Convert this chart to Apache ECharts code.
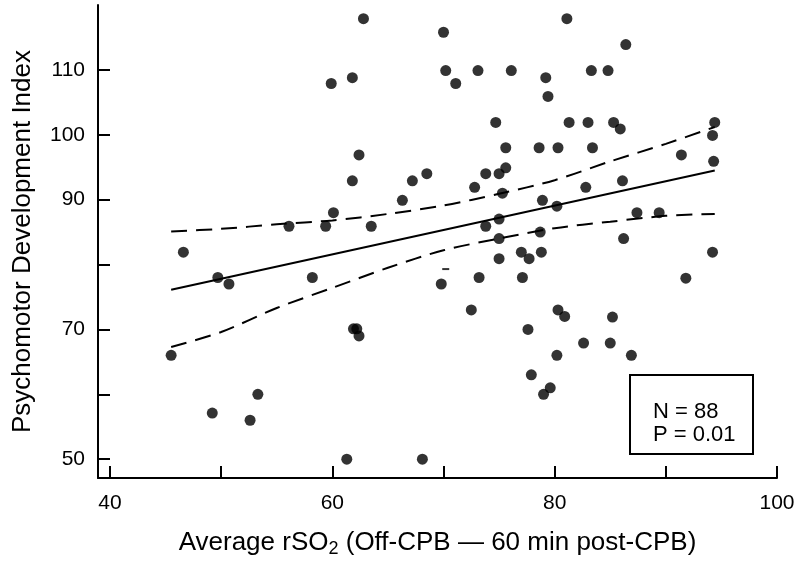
<!DOCTYPE html>
<html>
<head>
<meta charset="utf-8">
<script src="https://cdn.jsdelivr.net/npm/echarts@6/dist/echarts.min.js"></script>
<style>
html,body{margin:0;padding:0;background:#fff;}
#chart{width:800px;height:563px;}
</style>
</head>
<body>
<div id="chart"></div>
<script>
// Scatter values (Average rSO2, Psychomotor Development Index)
const rso2 = [59.9,60.1,56.1,59.4,46.6,62.8,70.0,81.1,61.8,70.2,71.1,73.1,76.1,79.2,79.4,74.7,81.3,62.4,75.6,78.6,
  80.3,61.8,67.2,68.5,75.6,73.8,75.0,72.8,66.3,75.3,78.9,63.5,80.2,73.8,75.0,75.0,78.7,86.4,83.3,84.8,
  83.0,85.3,85.9,94.4,94.2,83.4,91.4,94.3,82.8,86.1,87.4,89.4,86.2,49.7,50.7,58.2,45.5,49.2,53.3,52.6,
  75.0,77.0,77.7,78.8,69.8,73.2,77.1,72.5,61.9,62.2,62.4,77.6,80.3,80.9,80.2,77.9,79.6,79.0,61.3,68.1,
  94.2,91.8,85.2,82.6,85.0,86.9];
const pdi = [107.9,88.0,85.9,85.9,81.9,117.9,115.8,117.9,108.8,109.9,107.9,109.9,109.9,108.8,105.9,101.9,101.9,96.9,98.0,98.0,
  98.0,92.9,92.9,94.0,94.9,94.0,94.0,91.9,89.9,91.0,89.9,85.9,89.0,85.9,87.0,84.0,85.0,113.9,109.9,109.9,
  101.9,101.9,100.9,101.9,99.9,98.0,96.9,95.9,91.9,92.9,88.0,88.0,84.0,78.0,77.0,78.0,66.0,57.1,60.0,56.0,
  80.9,81.9,80.9,81.9,77.0,78.0,78.0,73.0,70.1,70.1,69.0,70.0,73.0,72.0,66.0,63.0,61.0,60.0,50.0,50.0,
  81.9,77.9,71.9,67.9,67.9,66.0];
// Regression line
const fitX = [45.5, 94.4];
const fitY = [76.1, 94.5];
// Confidence band
const ciX     = [45.5, 50, 55, 60, 65, 70, 75, 80, 85, 90, 94.4];
const ciUpper = [85.1, 85.5, 86.2, 86.8, 87.8, 89.1, 90.9, 93.0, 95.9, 98.6, 101.2];
const ciLower = [67.3, 69.6, 73.3, 76.4, 79.5, 82.2, 84.0, 85.6, 86.6, 87.5, 87.8];
// stray mark in original figure
const strayMark = [[70.2, 79.3]];
// Axis ticks/labels
const xTicks = [40, 50, 60, 70, 80, 90, 100];
const xLabels = [40, 60, 80, 100];
const yTicks = [50, 60, 70, 80, 90, 100, 110];
const yLabels = [50, 70, 90, 100, 110];
const annotN = 'N = 88';
const annotP = 'P = 0.01';

const zip = (a, b) => a.map((v, i) => [v, b[i]]);
const FONT = '"Liberation Sans", Arial, sans-serif';

const chart = echarts.init(document.getElementById('chart'), null, {renderer: 'canvas'});
const axisCommon = {
  axisLine: {show: true, lineStyle: {color: '#000', width: 2}},
  splitLine: {show: false},
};
chart.setOption({
  animation: false,
  backgroundColor: '#fff',
  textStyle: {fontFamily: FONT, color: '#000'},
  grid: {left: 98, right: 23, top: 5, bottom: 83, containLabel: false},
  xAxis: Object.assign({
    type: 'value', min: 38.92, max: 100,
    name: 'Average rSO{sub|2} (Off-CPB \u2014 60 min post-CPB)',
    nameLocation: 'middle', nameGap: 50,
    nameTextStyle: {color: '#000', fontSize: 26, fontFamily: FONT,
      rich: {sub: {fontSize: 18, verticalAlign: 'bottom', padding: [12, 0, 0, 0], color: '#000', fontFamily: FONT}}},
    axisTick: {show: true, inside: true, length: 12, lineStyle: {color: '#000', width: 2}, customValues: xTicks},
    axisLabel: {color: '#000', fontSize: 21, fontFamily: FONT, margin: 15, customValues: xLabels},
  }, axisCommon),
  yAxis: Object.assign({
    type: 'value', min: 47.1, max: 120,
    name: 'Psychomotor Development Index',
    nameLocation: 'middle', nameGap: 62, nameRotate: 90,
    nameTextStyle: {color: '#000', fontSize: 26, fontFamily: FONT},
    axisTick: {show: true, inside: true, length: 12, lineStyle: {color: '#000', width: 2}, customValues: yTicks},
    axisLabel: {color: '#000', fontSize: 21, fontFamily: FONT, margin: 13, customValues: yLabels},
  }, axisCommon),
  series: [
    {type: 'line', data: zip(fitX, fitY), symbol: 'none', lineStyle: {color: '#000', width: 2}, z: 3},
    {type: 'line', data: zip(ciX, ciUpper), symbol: 'none', smooth: 0.3,
      lineStyle: {color: '#000', width: 2, type: [16, 9]}, z: 3},
    {type: 'line', data: zip(ciX, ciLower), symbol: 'none', smooth: 0.3,
      lineStyle: {color: '#000', width: 2, type: [16, 9]}, z: 3},
    {type: 'scatter', data: zip(rso2, pdi), symbol: 'circle', symbolSize: 11,
      itemStyle: {color: '#000'}, z: 4},
    {type: 'scatter', data: strayMark, symbol: 'rect', symbolSize: [7, 2],
      itemStyle: {color: '#000'}, z: 4}
  ],
  graphic: [
    {type: 'rect', left: 629, top: 374, shape: {width: 123, height: 79},
      style: {fill: '#fff', stroke: '#000', lineWidth: 2}, z: 10},
    {type: 'text', x: 653, y: 412, style: {text: annotN, fill: '#000', fontSize: 22, fontFamily: FONT, verticalAlign: 'middle'}, z: 11},
    {type: 'text', x: 653, y: 435, style: {text: annotP, fill: '#000', fontSize: 22, fontFamily: FONT, verticalAlign: 'middle'}, z: 11}
  ]
});
</script>
</body>
</html>
